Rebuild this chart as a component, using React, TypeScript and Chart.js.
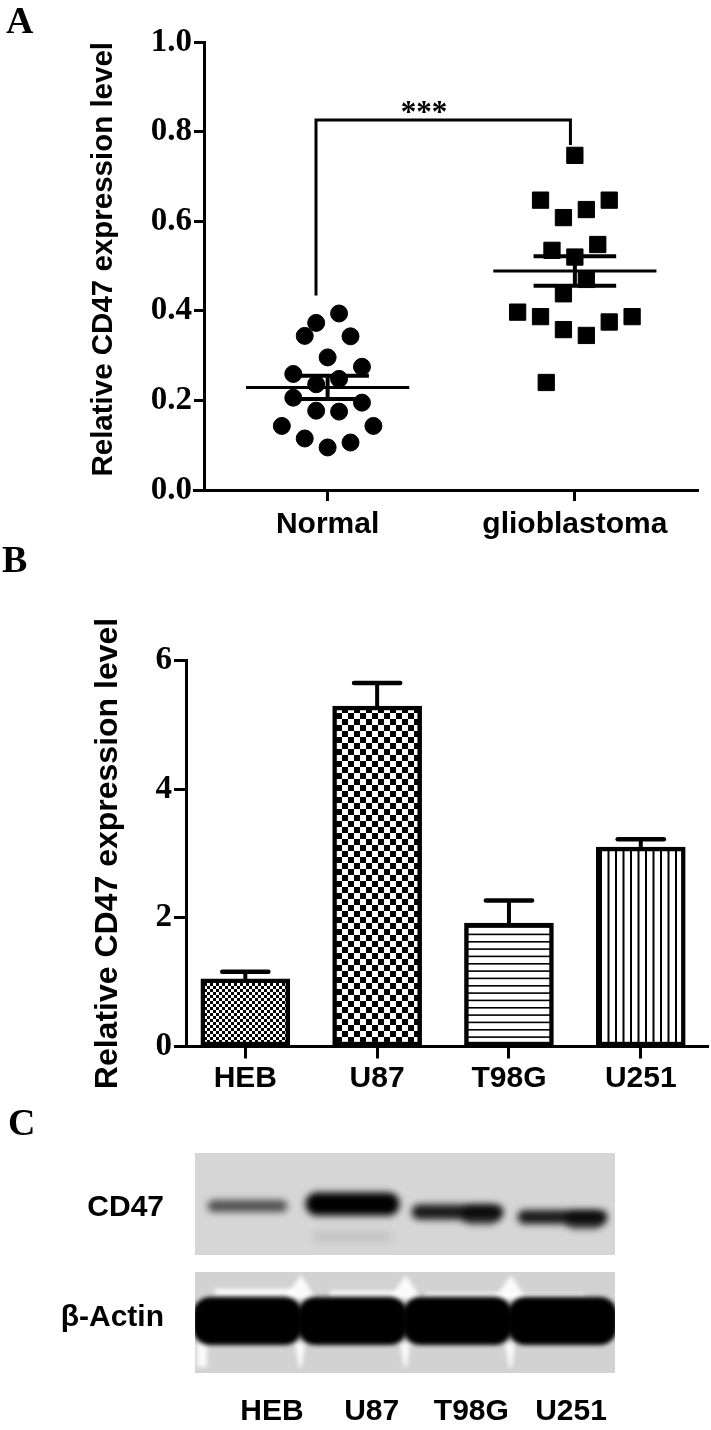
import React, { useEffect, useRef } from 'react';
import { Chart, registerables } from 'chart.js';

Chart.register(...registerables);

const SANS = '"Liberation Sans", Arial, sans-serif';
const SERIF = '"Liberation Serif", "Times New Roman", serif';

// ---------------- Panel A data ----------------
const groupLabels = ['Normal', 'glioblastoma'];
const normalValues = [0.394, 0.373, 0.344, 0.343, 0.296, 0.275, 0.259, 0.248, 0.236, 0.206, 0.195, 0.177, 0.175, 0.143, 0.143, 0.115, 0.106, 0.095];
const normalSlots = [1, -1, -2, 2, 0, 3, -3, 1, -1, -3, 3, -1, 1, -4, 4, -2, 2, 0];
const glioValues = [0.747, 0.647, 0.647, 0.626, 0.608, 0.548, 0.535, 0.52, 0.47, 0.438, 0.397, 0.387, 0.387, 0.375, 0.358, 0.345, 0.24];
const glioSlots = [0, -3, 3, 1, -1, 2, -2, 0, 1, -1, -5, -3, 5, 3, -1, 1, -2.5];
const groupMeans = [0.229, 0.489];
const groupSems = [0.026, 0.033];
const yTicksA = [0, 0.2, 0.4, 0.6, 0.8, 1.0];
const bracketTop = 0.826;
const bracketFeet = [0.434, 0.77];
const significance = '***';
const titleText = 'Relative CD47 expression level';

// ---------------- Panel B data ----------------
const cellLines = ['HEB', 'U87', 'T98G', 'U251'];
const cellValues = [1.05, 5.29, 1.92, 3.1];
const cellErrors = [0.11, 0.36, 0.35, 0.12];
const yTicksB = [0, 2, 4, 6];

// ---------------- Panel C data ----------------
const blotRows = ['CD47', 'β-Actin'];
const cd47Intensity = [0.62, 1.0, 0.88, 0.88];
const actinIntensity = [1, 1, 1, 1];

// layout / style constants
const SLOT = 0.0463;
const blackLine = (data: any[], width: number) => ({
  type: 'scatter',
  data,
  showLine: true,
  borderColor: '#000',
  backgroundColor: '#000',
  borderWidth: width,
  pointRadius: 0,
  pointHoverRadius: 0,
  borderCapStyle: 'butt',
  borderJoinStyle: 'miter',
  fill: false,
});

function alignPx(p: number, w: number) {
  return Math.round(p - w / 2) + w / 2;
}

function makePattern(draw: (c: CanvasRenderingContext2D) => void, w: number, h: number) {
  const cv = document.createElement('canvas');
  cv.width = w;
  cv.height = h;
  const c = cv.getContext('2d') as CanvasRenderingContext2D;
  c.fillStyle = '#fff';
  c.fillRect(0, 0, w, h);
  c.fillStyle = '#000';
  draw(c);
  return c.createPattern(cv, 'repeat') as CanvasPattern;
}

function configA(): any {
  const pts = (vals: number[], slots: number[], gi: number, style: string, r: number) => ({
    type: 'scatter',
    data: vals.map((v, i) => ({ x: gi + slots[i] * SLOT, y: v })),
    pointStyle: style,
    pointRadius: r,
    pointHoverRadius: r,
    pointBackgroundColor: '#000',
    pointBorderColor: '#000',
    pointBorderWidth: 1,
  });
  const errs: any[] = [];
  groupMeans.forEach((m, gi) => {
    const s = groupSems[gi];
    errs.push(blackLine([{ x: gi - 0.33, y: m }, { x: gi + 0.33, y: m }], 3));
    errs.push(blackLine([{ x: gi, y: m - s }, { x: gi, y: m + s }], 4));
    errs.push(blackLine([{ x: gi - 0.167, y: m + s }, { x: gi + 0.167, y: m + s }], 4));
    errs.push(blackLine([{ x: gi - 0.167, y: m - s }, { x: gi + 0.167, y: m - s }], 4));
  });
  const bracket = blackLine(
    [
      { x: -0.047, y: bracketFeet[0] },
      { x: -0.047, y: bracketTop },
      { x: 0.982, y: bracketTop },
      { x: 0.982, y: bracketFeet[1] },
    ],
    3
  );
  const annot = {
    id: 'annotA',
    afterDatasetsDraw(chart: any) {
      const { ctx, chartArea, scales } = chart;
      const x = scales.x;
      const y = scales.y;
      ctx.save();
      ctx.fillStyle = '#000';
      ctx.font = `bold 31px ${SERIF}`;
      ctx.textAlign = 'center';
      ctx.textBaseline = 'alphabetic';
      ctx.fillText(significance, x.getPixelForValue(0.39), y.getPixelForValue(bracketTop) + 2);
      ctx.strokeStyle = '#000';
      ctx.lineWidth = 3;
      const yy = alignPx(chartArea.bottom, 3);
      ctx.beginPath();
      ctx.moveTo(chartArea.left - 11, yy);
      ctx.lineTo(chartArea.left, yy);
      ctx.stroke();
      ctx.restore();
    },
  };
  return {
    type: 'scatter',
    data: {
      datasets: [
        pts(normalValues, normalSlots, 0, 'circle', 8.5),
        pts(glioValues, glioSlots, 1, 'rect', 11.5),
        ...errs,
        bracket,
      ],
    },
    plugins: [annot],
    options: {
      animation: false,
      responsive: false,
      maintainAspectRatio: false,
      events: [],
      layout: { padding: { top: 42, right: 1, left: 0, bottom: 0 } },
      plugins: { legend: { display: false }, tooltip: { enabled: false } },
      scales: {
        x: {
          type: 'linear',
          min: -0.5,
          max: 1.5,
          offset: false,
          afterBuildTicks: (s: any) => {
            s.ticks = groupLabels.map((_, i) => ({ value: i }));
          },
          afterFit: (s: any) => {
            s.height = 55;
          },
          ticks: {
            callback: (v: any) => groupLabels[Math.round(v)] ?? '',
            font: { family: SANS, weight: 'bold', size: 30 },
            color: '#000',
            padding: 6,
            maxRotation: 0,
            autoSkip: false,
          },
          grid: { drawOnChartArea: false, drawTicks: true, tickLength: 11, tickWidth: 3, color: '#000', offset: false },
          border: { display: true, color: '#000', width: 3 },
        },
        y: {
          type: 'linear',
          min: 0,
          max: 1,
          afterBuildTicks: (s: any) => {
            s.ticks = yTicksA.map((v) => ({ value: v }));
          },
          afterFit: (s: any) => {
            s.width = 204;
          },
          ticks: {
            callback: (v: any) => Number(v).toFixed(1),
            font: { family: SERIF, weight: 'bold', size: 33 },
            color: '#000',
            padding: 2,
          },
          grid: { drawOnChartArea: false, drawTicks: true, tickLength: 10, tickWidth: 3, color: '#000' },
          border: { display: true, color: '#000', width: 3 },
          title: {
            display: true,
            text: titleText,
            font: { family: SANS, size: 29.5, weight: 'bold' },
            color: '#000',
            align: 'end',
            padding: { top: 86, bottom: 0 },
          },
        },
      },
    },
  };
}

function configB(): any {
  const patterns = [
    makePattern((c) => {
      c.fillRect(0, 0, 3, 3);
      c.fillRect(3, 3, 3, 3);
    }, 6, 6),
    makePattern((c) => {
      c.fillRect(0, 0, 6, 6);
      c.fillRect(6, 6, 6, 6);
    }, 12, 12),
    makePattern((c) => {
      c.fillRect(0, 0, 22, 1.6);
      c.fillRect(0, 7.3, 22, 1.6);
      c.fillRect(0, 14.6, 22, 1.6);
    }, 22, 22),
    makePattern((c) => {
      c.fillRect(0, 0, 2, 15);
      c.fillRect(7.5, 0, 2, 15);
    }, 15, 15),
  ];
  const errPlugin = {
    id: 'errB',
    afterDatasetsDraw(chart: any) {
      const { ctx, scales } = chart;
      const x = scales.x;
      const y = scales.y;
      ctx.save();
      ctx.strokeStyle = '#000';
      cellValues.forEach((v, i) => {
        const cx = x.getPixelForValue(i);
        const yTop = y.getPixelForValue(v);
        const yCap = y.getPixelForValue(v + cellErrors[i]);
        ctx.lineWidth = 4;
        ctx.lineCap = 'butt';
        ctx.beginPath();
        ctx.moveTo(cx, yTop);
        ctx.lineTo(cx, yCap);
        ctx.stroke();
        ctx.lineWidth = 4.5;
        ctx.lineCap = 'round';
        ctx.beginPath();
        ctx.moveTo(x.getPixelForValue(i - 0.175), yCap);
        ctx.lineTo(x.getPixelForValue(i + 0.175), yCap);
        ctx.stroke();
      });
      ctx.restore();
    },
  };
  return {
    type: 'bar',
    data: {
      datasets: [
        {
          data: cellValues.map((v, i) => ({ x: i, y: v })),
          backgroundColor: patterns,
          borderColor: '#000',
          borderWidth: 4.5,
          borderSkipped: false,
          barThickness: 89,
        },
      ],
    },
    plugins: [errPlugin],
    options: {
      animation: false,
      responsive: false,
      maintainAspectRatio: false,
      events: [],
      layout: { padding: { top: 115.5, right: 3, left: 0, bottom: 0 } },
      plugins: { legend: { display: false }, tooltip: { enabled: false } },
      scales: {
        x: {
          type: 'linear',
          min: -0.45,
          max: 3.51,
          offset: false,
          afterBuildTicks: (s: any) => {
            s.ticks = cellLines.map((_, i) => ({ value: i }));
          },
          afterFit: (s: any) => {
            s.height = 53.5;
          },
          ticks: {
            callback: (v: any) => cellLines[Math.round(v)] ?? '',
            font: { family: SANS, weight: 'bold', size: 30 },
            color: '#000',
            padding: 2,
            maxRotation: 0,
            autoSkip: false,
          },
          grid: { drawOnChartArea: false, drawTicks: true, tickLength: 12, tickWidth: 3, color: '#000', offset: false },
          border: { display: true, color: '#000', width: 3 },
        },
        y: {
          type: 'linear',
          min: 0,
          max: 6,
          afterBuildTicks: (s: any) => {
            s.ticks = yTicksB.map((v) => ({ value: v }));
          },
          afterFit: (s: any) => {
            s.width = 186;
          },
          ticks: {
            callback: (v: any) => String(v),
            font: { family: SERIF, weight: 'bold', size: 33 },
            color: '#000',
            padding: 2,
          },
          grid: { drawOnChartArea: false, drawTicks: true, tickLength: 12, tickWidth: 3, color: '#000' },
          border: { display: true, color: '#000', width: 3 },
          title: {
            display: true,
            text: titleText,
            font: { family: SANS, size: 32, weight: 'bold' },
            color: '#000',
            align: 'center',
            padding: { top: 89, bottom: 0 },
          },
        },
      },
    },
  };
}

const cd47Shape = [
  { dy: -2, w: 80, h: 12, tail: false },
  { dy: -4, w: 94, h: 23, tail: false },
  { dy: 4, w: 92, h: 15, tail: true },
  { dy: 9, w: 90, h: 14, tail: true },
];

function configC(): any {
  const blot = {
    id: 'blot',
    afterDraw(chart: any) {
      const { ctx, chartArea: a, scales } = chart;
      const xs = scales.x;
      const ys = scales.y;
      const cdY = ys.getPixelForValue(0);
      const acY = ys.getPixelForValue(1);
      const box1 = { l: a.left, r: a.right, t: cdY - 55, b: cdY + 47 };
      const box2 = { l: a.left, r: a.right, t: acY - 46, b: acY + 55 };

      // CD47 blot
      ctx.save();
      ctx.beginPath();
      ctx.rect(box1.l, box1.t, box1.r - box1.l, box1.b - box1.t);
      ctx.clip();
      ctx.fillStyle = '#d6d6d6';
      ctx.fillRect(box1.l, box1.t, box1.r - box1.l, box1.b - box1.t);
      cd47Intensity.forEach((v, i) => {
        const s = cd47Shape[i];
        const cx = xs.getPixelForValue(i);
        const cy = cdY + s.dy;
        ctx.filter = 'blur(3.5px)';
        ctx.fillStyle = `rgba(0,0,0,${v})`;
        ctx.beginPath();
        ctx.roundRect(cx - s.w / 2, cy - s.h / 2, s.w, s.h, s.h / 2);
        ctx.fill();
        if (s.tail) {
          ctx.fillStyle = `rgba(0,0,0,${v * 0.7})`;
          ctx.beginPath();
          ctx.roundRect(cx + s.w / 2 - 42, cy - s.h / 2 + 2, 38, s.h + 3, (s.h + 3) / 2);
          ctx.fill();
        }
        if (i === 1) {
          ctx.filter = 'blur(4px)';
          ctx.fillStyle = 'rgba(0,0,0,0.09)';
          ctx.beginPath();
          ctx.roundRect(cx - 40, cy + 28, 80, 10, 5);
          ctx.fill();
        }
      });
      ctx.restore();

      // beta-actin blot
      ctx.save();
      ctx.beginPath();
      ctx.rect(box2.l, box2.t, box2.r - box2.l, box2.b - box2.t);
      ctx.clip();
      ctx.fillStyle = '#d2d2d2';
      ctx.fillRect(box2.l, box2.t, box2.r - box2.l, box2.b - box2.t);
      const bandC = acY + 3;
      const bandTop = bandC - 24;
      const bandBot = bandC + 24;
      // white artefacts around the saturated band
      ctx.filter = 'blur(2px)';
      ctx.fillStyle = 'rgba(255,255,255,0.9)';
      [0.5, 1.5, 2.5].forEach((b) => {
        const bx = xs.getPixelForValue(b);
        ctx.beginPath();
        ctx.moveTo(bx - 16, bandTop + 2);
        ctx.lineTo(bx + 16, bandTop + 2);
        ctx.lineTo(bx + 1, bandTop - 22);
        ctx.closePath();
        ctx.fill();
        ctx.beginPath();
        ctx.moveTo(bx - 5, bandBot - 2);
        ctx.lineTo(bx + 5, bandBot - 2);
        ctx.lineTo(bx + 2, box2.b - 6);
        ctx.lineTo(bx - 1, box2.b - 6);
        ctx.closePath();
        ctx.fill();
      });
      ctx.fillRect(box2.l + 20, bandTop - 8, 80, 7);
      ctx.fillRect(box2.l + 135, bandTop - 6, 70, 6);
      ctx.fillRect(box2.l + 230, bandTop - 4, 90, 4);
      ctx.fillRect(box2.l + 320, bandTop - 3, 70, 3);
      ctx.fillRect(box2.l + 2, bandBot - 2, 10, box2.b - bandBot - 4);
      actinIntensity.forEach((v, i) => {
        const cx = xs.getPixelForValue(i);
        ctx.filter = 'blur(2px)';
        ctx.fillStyle = `rgba(0,0,0,${v})`;
        ctx.beginPath();
        ctx.roundRect(cx - 55, bandTop, 110, 48, 18);
        ctx.fill();
      });
      ctx.restore();
    },
  };
  return {
    type: 'scatter',
    data: { datasets: [] },
    plugins: [blot],
    options: {
      animation: false,
      responsive: false,
      maintainAspectRatio: false,
      events: [],
      layout: { padding: { top: 53, right: 96, left: 0, bottom: 0 } },
      plugins: { legend: { display: false }, tooltip: { enabled: false } },
      scales: {
        x: { type: 'linear', min: -0.5, max: 3.5, display: false },
        xl: {
          type: 'linear',
          position: 'bottom',
          min: -0.7725,
          max: 3.441,
          afterBuildTicks: (s: any) => {
            s.ticks = cellLines.map((_, i) => ({ value: i }));
          },
          afterFit: (s: any) => {
            s.height = 57;
          },
          ticks: {
            callback: (v: any) => cellLines[Math.round(v)] ?? '',
            font: { family: SANS, weight: 'bold', size: 30 },
            color: '#000',
            padding: 21,
            maxRotation: 0,
            autoSkip: false,
          },
          grid: { display: false, drawTicks: false },
          border: { display: false },
        },
        y: {
          type: 'category',
          labels: blotRows,
          offset: true,
          position: 'left',
          afterFit: (s: any) => {
            s.width = 195;
          },
          ticks: {
            font: { family: SANS, weight: 'bold', size: 30 },
            color: '#000',
            padding: 31,
          },
          grid: { display: false, drawTicks: false },
          border: { display: false },
        },
      },
    },
  };
}

const letterStyle = (left: number, top: number): React.CSSProperties => ({
  position: 'absolute',
  left,
  top,
  fontFamily: SERIF,
  fontWeight: 'bold',
  fontSize: 38,
  lineHeight: '38px',
  color: '#000',
});

export default function App() {
  const refA = useRef<HTMLCanvasElement>(null);
  const refB = useRef<HTMLCanvasElement>(null);
  const refC = useRef<HTMLCanvasElement>(null);

  useEffect(() => {
    const charts: Chart[] = [];
    if (refA.current) charts.push(new Chart(refA.current, configA()));
    if (refB.current) charts.push(new Chart(refB.current, configB()));
    if (refC.current) charts.push(new Chart(refC.current, configC()));
    return () => charts.forEach((c) => c.destroy());
  }, []);

  const cv = (top: number, h: number): React.CSSProperties => ({
    position: 'absolute',
    left: 0,
    top,
    width: 711,
    height: h,
    display: 'block',
  });

  return (
    <div style={{ position: 'absolute', left: 0, top: 0, width: 711, height: 1430, background: '#fff', overflow: 'hidden' }}>
      <canvas ref={refA} width={711} height={545} style={cv(0, 545)} />
      <canvas ref={refB} width={711} height={555} style={cv(545, 555)} />
      <canvas ref={refC} width={711} height={330} style={cv(1100, 330)} />
      <div style={letterStyle(6, 1)}>A</div>
      <div style={letterStyle(2, 540)}>B</div>
      <div style={letterStyle(8, 1103)}>C</div>
    </div>
  );
}
